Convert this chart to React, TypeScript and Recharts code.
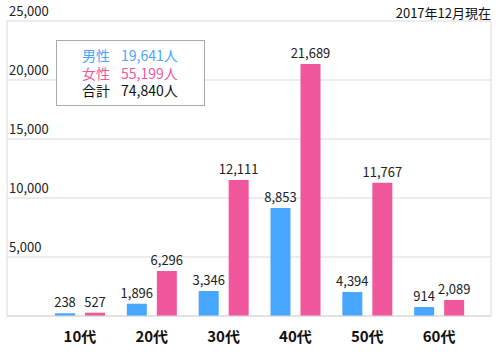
import React from 'react';
import { BarChart, Bar, XAxis, YAxis, CartesianGrid, LabelList } from 'recharts';

const ageGroups = ['10代', '20代', '30代', '40代', '50代', '60代'];
// printed counts
const maleCounts = [238, 1896, 3346, 8853, 4394, 914];
const femaleCounts = [527, 6296, 12111, 21689, 11767, 2089];
// bar heights as drawn in the original (it is not to scale)
const maleBars = [230, 1040, 2120, 9150, 2030, 760];
const femaleBars = [280, 3810, 11520, 21360, 11300, 1360];
const yTicks = [0, 5000, 10000, 15000, 20000, 25000];

const totals = [
	{ name: '男性', value: '19,641人', color: '#47a6ff' },
	{ name: '女性', value: '55,199人', color: '#f0579c' },
	{ name: '合計', value: '74,840人', color: '#111' },
];

const MALE = '#47a6ff';
const FEMALE = '#f0579c';
const FONT = '"Noto Sans CJK JP", "Noto Sans", sans-serif';

const data = ageGroups.map((age, i) => ({
	age,
	male: maleBars[i],
	female: femaleBars[i],
	maleLabel: maleCounts[i].toLocaleString('en-US'),
	femaleLabel: femaleCounts[i].toLocaleString('en-US'),
}));

const YTick = (props: any) => {
	const { x, y, payload } = props;
	if (payload.value === 0) return null;
	return (
		<text x={x} y={y - 5} textAnchor='start' fontSize={13} fill='#222' fontFamily={FONT}>
			{payload.value.toLocaleString('en-US')}
		</text>
	);
};

const TotalsBox = () => (
	<div
		style={{
			position: 'absolute',
			left: 56,
			top: 40,
			width: 122,
			height: 52,
			padding: '6px 0 6px 25px',
			border: '1px solid #aaa',
			background: '#fff',
			fontFamily: FONT,
			fontSize: 14,
			lineHeight: '17.5px',
			zIndex: 2,
		}}
	>
		{totals.map(t => (
			<div key={t.name} style={{ color: t.color, whiteSpace: 'nowrap' }}>
				<span style={{ marginRight: 11 }}>{t.name}</span>
				<span>{t.value}</span>
			</div>
		))}
	</div>
);

export default function App() {
	return (
		<div style={{ position: 'absolute', left: 0, top: 0, width: 500, height: 360, background: '#fff' }}>
			<div
				style={{
					position: 'absolute',
					right: 9,
					top: 3,
					fontSize: 13,
					fontFamily: FONT,
					color: '#111',
				}}
			>
				2017年12月現在
			</div>
			<BarChart
				width={500}
				height={360}
				data={data}
				margin={{ top: 21, right: 9, left: 7, bottom: 0 }}
				barSize={20}
				barGap={10}
			>
				<CartesianGrid vertical={false} stroke='#d9d9d9' />
				<XAxis
					dataKey='age'
					height={44}
					padding={{ left: 37, right: 16 }}
					axisLine={{ stroke: '#d9d9d9' }}
					tickLine={false}
					tickSize={0}
					tickMargin={15}
					tick={{ fontSize: 15, fontWeight: 'bold', fill: '#111', fontFamily: FONT }}
				/>
				<YAxis
					mirror
					width={60}
					domain={[0, 25000]}
					ticks={yTicks}
					axisLine={{ stroke: '#d9d9d9' }}
					tickLine={false}
					tickSize={0}
					tickMargin={2}
					tick={YTick}
				/>
				<YAxis
					yAxisId='frame'
					orientation='right'
					mirror
					width={10}
					domain={[0, 25000]}
					axisLine={{ stroke: '#d9d9d9' }}
					tickLine={false}
					tick={false}
				/>
				<Bar dataKey='male' fill={MALE} isAnimationActive={false}>
					<LabelList dataKey='maleLabel' position='top' offset={6} fontSize={13} fill='#222' fontFamily={FONT} />
				</Bar>
				<Bar dataKey='female' fill={FEMALE} isAnimationActive={false}>
					<LabelList dataKey='femaleLabel' position='top' offset={6} fontSize={13} fill='#222' fontFamily={FONT} />
				</Bar>
			</BarChart>
			<TotalsBox />
		</div>
	);
}
